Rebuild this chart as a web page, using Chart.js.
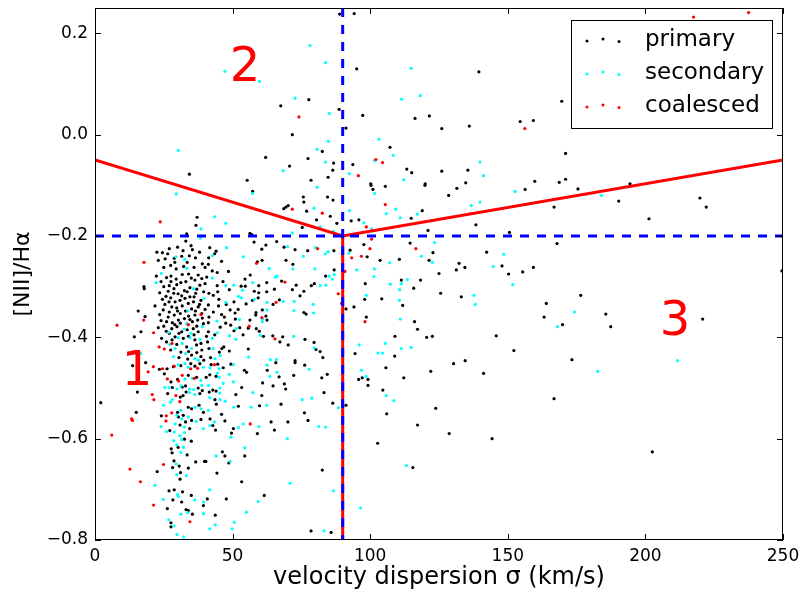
<!DOCTYPE html>
<html>
<head>
<meta charset="utf-8">
<script src="https://cdn.jsdelivr.net/npm/chart.js@4.4.1/dist/chart.umd.min.js"></script>
<style>
  body { margin: 0; background: #fff; }
  #wrap { width: 805px; height: 601px; }
</style>
</head>
<body>
<div id="wrap"><canvas id="bptChart" width="805" height="601"></canvas></div>
<script>
// ejes
const xTicks = [0, 50, 100, 150, 200, 250];
const yTicks = [-0.8, -0.6, -0.4, -0.2, 0.0, 0.2];
const seriesNames = ['primary', 'secondary', 'coalesced'];

// líneas divisorias (sigma, [NII]/Ha)
const boundaryX = [0, 90, 250];
const boundaryY = [-0.05, -0.2, -0.05];
const sigmaCut = 90;
const ratioCut = -0.2;

// etiquetas de región: [texto, sigma, ratio]
const regionLabels = [['1', 15.3, -0.47], ['2', 54.5, 0.13], ['3', 210.8, -0.37]];

// puntos [sigma, ratio]
const primaryPts = [
  [34.3,-0.078],[55.3,-0.090],[62.0,-0.045],[88.9,0.238],[94.2,0.239],[95.1,0.130],[77.7,0.069],[67.5,0.057],
  [88.7,0.050],[97.3,0.038],[116.3,0.032],[121.5,0.037],[91.2,0.013],[71.7,0.0],[107.2,-0.025],[82.6,-0.033],
  [77.4,-0.047],[86.7,-0.056],[93.7,-0.059],[70.7,-0.062],[86.4,-0.070],[113.3,-0.068],[115.1,-0.075],[84.7,-0.084],
  [78.5,-0.090],[100.2,-0.097],[120.0,-0.097],[139.5,0.124],[169.6,0.066],[126.0,0.012],[136.0,0.017],[154.5,0.026],
  [159.3,0.028],[171.0,-0.037],[126.0,-0.072],[135.5,-0.070],[134.7,-0.095],[159.8,-0.092],[168.7,-0.094],[171.0,-0.088],
  [194.4,-0.097],[175.5,-0.107],[190.3,-0.131],[219.8,-0.125],[222.1,-0.143],[201.3,-0.166],[249.6,-0.269],[176.5,-0.317],
  [169.9,-0.375],[185.6,-0.354],[187.4,-0.379],[220.8,-0.364],[173.3,-0.444],[202.5,-0.626],
  [97.1,-0.480],[95.8,-0.483],[99.2,-0.483],[99.2,-0.495],[105.7,-0.460],[122.0,-0.467],[130.3,-0.452],[141.2,-0.471],
  [112.2,-0.480],[104.6,-0.504],[91.2,-0.534],[106.0,-0.551],[123.8,-0.540],[166.8,-0.521],[117.2,-0.573],[128.7,-0.590],
  [144.3,-0.600],[102.7,-0.609],[115.5,-0.657],
  [100.3,-0.100],[101.0,-0.108],[105.5,-0.102],[119.9,-0.100],[131.5,-0.106],[128.5,-0.120],[156.3,-0.108],[114.9,-0.165],
  [118.9,-0.150],[166.8,-0.143],[93.1,-0.170],[95.9,-0.168],[121.0,-0.189],[138.4,-0.178],[150.6,-0.193],[97.7,-0.217],
  [92.7,-0.228],[98.9,-0.241],[114.5,-0.214],[122.8,-0.233],[103.6,-0.248],[110.6,-0.246],[121.4,-0.248],[142.3,-0.232],
  [167.9,-0.215],[98.2,-0.294],[111.3,-0.287],[118.3,-0.287],[115.8,-0.303],[125.0,-0.274],[132.3,-0.254],[131.3,-0.267],
  [134.4,-0.262],[147.9,-0.259],[150.3,-0.275],[155.4,-0.271],[159.3,-0.262],[125.6,-0.313],[133.1,-0.320],[98.0,-0.325],
  [104.2,-0.324],[111.8,-0.337],[94.1,-0.340],[91.2,-0.344],[98.6,-0.360],[116.1,-0.369],[117.2,-0.384],[109.0,-0.398],
  [120.5,-0.400],[122.6,-0.398],[164.0,-0.333],[163.2,-0.360],[145.8,-0.397],[152.2,-0.426],[94.5,-0.432],[108.9,-0.437],
  [134.5,-0.446],
  [57.3,-0.112],[75.7,-0.123],[75.9,-0.133],[68.6,-0.146],[69.4,-0.143],[70.2,-0.140],[76.9,-0.151],[85.5,-0.161],
  [80.5,-0.168],[84.5,-0.123],[86.5,-0.129],[87.9,-0.175],[75.3,-0.183],[56.3,-0.195],[56.9,-0.197],[37.1,-0.163],
  [36.7,-0.179],[33.3,-0.196],
  [41.7,-0.223],[43.5,-0.235],[57.8,-0.212],[62.1,-0.218],[60.6,-0.226],[66.0,-0.211],[72.7,-0.227],[77.3,-0.229],
  [86.8,-0.229],[59.0,-0.251],[71.9,-0.256],[41.2,-0.256],[42.6,-0.269],[44.4,-0.272],[54.5,-0.285],[56.4,-0.277],
  [62.4,-0.292],[73.1,-0.297],[78.6,-0.298],[79.7,-0.294],[75.9,-0.309],[74.5,-0.318],[65.2,-0.305],[53.1,-0.299],
  [48.8,-0.306],[59.5,-0.312],[59.3,-0.322],[64.7,-0.335],[54.9,-0.334],[44.9,-0.338],[75.9,-0.351],[60.8,-0.346],
  [58.4,-0.356],[56.3,-0.366],[51.0,-0.364],[47.5,-0.372],[50.5,-0.387],[53.8,-0.395],[55.7,-0.382],[59.7,-0.388],
  [64.6,-0.397],[70.2,-0.415],[76.3,-0.404],[81.8,-0.428],[82.8,-0.440],[79.6,-0.410],[55.7,-0.423],[46.1,-0.422],
  [72.7,-0.446],[41.3,-0.243],[40.6,-0.281],[40.0,-0.294],[41.4,-0.313],[43.0,-0.317],[44.6,-0.310],[41.2,-0.336],
  [43.0,-0.350],[41.4,-0.360],[46.0,-0.355],[49.1,-0.346],[47.7,-0.335],[50.9,-0.352],[41.2,-0.371],[49.3,-0.376],
  [52.6,-0.381],[58.6,-0.383],[41.2,-0.389],[40.9,-0.409],[41.4,-0.422],[48.8,-0.427],[46.8,-0.419],[45.2,-0.429],
  [67.2,-0.409],[68.2,-0.399],[61.2,-0.398],[62.5,-0.366],[62.1,-0.358],[58.5,-0.351],[57.2,-0.327],[59.5,-0.298],
  [54.6,-0.299],[57.9,-0.309],[62.4,-0.310],[67.8,-0.289],[71.7,-0.306],[76.7,-0.354],[80.3,-0.424],[67.0,-0.326],
  [69.4,-0.248],[60.7,-0.248],[68.7,-0.222],[86.9,-0.267],[83.8,-0.279],[44.4,-0.298],
  [46.6,-0.460],[49.4,-0.453],[41.7,-0.474],[54.3,-0.465],[55.1,-0.469],[62.6,-0.465],[76.2,-0.455],[66.9,-0.478],
  [72.2,-0.475],[82.4,-0.480],[84.4,-0.473],[60.9,-0.490],[64.7,-0.496],[68.8,-0.492],[69.3,-0.502],[53.3,-0.499],
  [44.0,-0.506],[43.6,-0.523],[51.2,-0.513],[60.6,-0.515],[59.8,-0.535],[67.6,-0.532],[52.1,-0.536],[46.0,-0.552],
  [41.8,-0.561],[47.2,-0.565],[43.8,-0.583],[64.0,-0.567],[65.2,-0.583],[70.1,-0.567],[59.0,-0.590],[49.6,-0.589],
  [76.1,-0.549],[77.4,-0.564],[83.2,-0.509],[86.4,-0.530],[46.3,-0.626],[47.2,-0.634],[54.4,-0.634],[40.3,-0.645],
  [44.3,-0.668],[82.6,-0.662],[53.3,-0.685],[61.5,-0.712],[40.8,-0.719],[47.7,-0.719],[43.7,-0.751],[78.5,-0.782],
  [85.8,-0.785],[40.4,-0.479],[42.8,-0.504],[41.5,-0.508],[44.1,-0.532],[42.8,-0.574],[50.3,-0.580],[48.6,-0.648],
  [42.2,-0.454],[44.6,-0.453],[44.0,-0.477],[65.7,-0.450],[72.7,-0.450],
  [2.1,-0.529],[15.0,-0.548],[22.6,-0.665],[15.4,-0.508],[13.7,-0.456],[18.4,-0.450],[24.1,-0.555],[28.1,-0.499],
  [26.4,-0.511],[26.2,-0.462],[27.2,-0.584],[28.5,-0.458],[31.2,-0.456],[32.0,-0.515],[30.2,-0.617],[27.7,-0.620],
  [32.5,-0.601],[33.5,-0.632],[35.0,-0.605],[28.7,-0.644],[30.6,-0.654],[33.9,-0.658],[28.2,-0.657],[30.9,-0.680],
  [36.6,-0.646],[39.8,-0.645],[26.9,-0.703],[28.8,-0.701],[31.8,-0.705],[35.0,-0.712],[28.3,-0.721],[31.5,-0.725],
  [26.3,-0.738],[33.1,-0.740],[35.4,-0.749],[27.6,-0.766],[27.6,-0.774],[28.0,-0.628],[31.1,-0.667],[33.9,-0.742],
  [39.4,-0.732],
  [23.4,-0.463],[25.2,-0.472],[34.8,-0.452],[36.3,-0.457],[38.1,-0.452],[30.0,-0.483],[33.9,-0.475],[36.9,-0.479],
  [27.6,-0.488],[31.7,-0.498],[32.9,-0.496],[37.5,-0.500],[39.0,-0.505],[31.0,-0.518],[33.1,-0.508],[38.1,-0.511],
  [33.9,-0.538],[35.1,-0.541],[37.8,-0.534],[39.4,-0.548],[30.0,-0.548],[32.1,-0.554],[30.3,-0.557],[32.9,-0.567],
  [35.1,-0.564],[38.5,-0.562],[30.9,-0.573],[34.4,-0.580],
  [30.0,-0.222],[32.0,-0.229],[34.9,-0.219],[35.4,-0.227],[24.5,-0.233],[26.4,-0.235],[28.8,-0.244],[34.3,-0.239],
  [23.0,-0.248],[22.3,-0.279],[27.6,-0.279],[26.0,-0.282],[27.6,-0.290],[32.2,-0.260],[31.7,-0.276],[29.7,-0.296],
  [31.2,-0.292],[28.7,-0.304],[26.6,-0.309],[25.8,-0.319],[28.6,-0.313],[30.2,-0.314],[32.5,-0.308],[34.5,-0.302],
  [36.3,-0.287],[37.5,-0.277],[38.8,-0.284],[38.1,-0.297],[36.6,-0.313],[34.5,-0.320],[32.7,-0.323],[30.9,-0.327],
  [29.1,-0.330],[26.9,-0.330],[25.4,-0.335],[27.9,-0.340],[29.7,-0.342],[31.7,-0.338],[33.9,-0.333],[35.8,-0.330],
  [38.5,-0.327],[37.5,-0.340],[35.1,-0.344],[32.9,-0.348],[31.0,-0.353],[28.8,-0.356],[26.6,-0.360],[36.3,-0.356],
  [38.8,-0.353],[24.8,-0.346],[24.0,-0.367],[26.0,-0.369],[28.1,-0.371],[30.3,-0.366],[32.5,-0.363],[35.4,-0.369],
  [37.3,-0.366],[39.4,-0.373],[23.0,-0.381],[25.9,-0.388],[27.9,-0.383],[29.8,-0.379],[31.5,-0.389],[35.7,-0.383],
  [37.5,-0.389],[29.1,-0.399],[32.1,-0.402],[36.3,-0.405],[24.2,-0.402],[26.0,-0.409],[29.7,-0.414],[33.3,-0.419],
  [36.9,-0.415],[38.8,-0.425],[31.2,-0.429],[35.1,-0.435],[38.5,-0.438],[33.7,-0.443],[15.7,-0.348],[18.2,-0.359],
  [16.7,-0.389],[14.3,-0.399],[21.8,-0.338],[17.8,-0.300],[17.9,-0.304],
  [33.0,-0.210],[27.5,-0.258],[29.5,-0.265],[25.0,-0.262],[36.0,-0.262],[39.0,-0.255],[34.0,-0.275],
  [22.5,-0.232],[25.5,-0.245],[27.0,-0.225],[29.0,-0.252],[31.5,-0.240],[33.5,-0.252],[36.5,-0.243],[38.0,-0.232],
  [40.0,-0.262],[24.0,-0.290],[23.5,-0.312],[25.0,-0.300],[27.0,-0.298],[29.5,-0.285],[33.0,-0.290],[35.0,-0.283],
  [37.0,-0.305],[39.5,-0.310],[24.5,-0.325],[27.5,-0.322],[31.5,-0.318],[33.5,-0.310],[36.0,-0.320],[38.0,-0.335],
  [40.0,-0.345],[23.5,-0.355],[27.0,-0.350],[30.0,-0.348],[34.0,-0.358],[36.5,-0.348],[39.0,-0.362],[25.0,-0.378],
  [27.0,-0.392],[29.0,-0.375],[31.0,-0.372],[33.5,-0.385],[34.5,-0.365],[37.0,-0.378],[40.5,-0.398],[28.0,-0.405],
  [30.5,-0.392],[34.0,-0.398],[36.0,-0.395],[38.5,-0.412],[27.5,-0.425],[30.5,-0.440],[34.0,-0.428],[37.0,-0.430],
  [39.5,-0.445],[42.0,-0.440],[43.5,-0.395],[45.5,-0.380],[47.0,-0.360],[45.0,-0.325],[46.5,-0.290],[48.5,-0.270],
  [46.0,-0.250],[50.5,-0.330],[52.0,-0.345],[44.0,-0.230]
];

const secondaryPts = [
  [47.2,0.125],[59.7,0.105],[30.3,-0.031],[78.1,0.176],[83.8,0.142],[114.9,0.131],[72.7,0.072],[111.4,0.070],
  [118.2,0.077],[85.1,0.042],[84.8,-0.013],[103.2,-0.009],[80.7,-0.029],[108.4,-0.041],[101.5,-0.051],[83.7,-0.054],
  [68.4,-0.071],[92.4,-0.077],[112.2,-0.089],[139.9,-0.054],[141.2,-0.081],[184.0,-0.120],[174.2,-0.350],[211.7,-0.446],
  [182.7,-0.467],[96.8,-0.465],[98.5,-0.477],[105.8,-0.515],[108.6,-0.525],[113.2,-0.653],[96.5,-0.737],
  [101.6,-0.116],[152.7,-0.112],[136.7,-0.140],[139.9,-0.133],[105.8,-0.156],[109.3,-0.147],[110.9,-0.164],[117.1,-0.157],
  [92.5,-0.150],[97.7,-0.174],[100.5,-0.186],[92.2,-0.234],[123.4,-0.213],[118.6,-0.240],[107.1,-0.253],[122.6,-0.252],
  [148.5,-0.236],[95.1,-0.267],[101.5,-0.265],[101.4,-0.280],[107.3,-0.295],[111.3,-0.294],[113.5,-0.286],[110.7,-0.306],
  [144.7,-0.260],[151.8,-0.296],[137.7,-0.317],[138.2,-0.335],[98.6,-0.317],[110.6,-0.327],[110.9,-0.364],[168.0,-0.379],
  [105.5,-0.412],[96.0,-0.415],[111.3,-0.422],[114.9,-0.420],[102.8,-0.431],[104.5,-0.431],
  [57.3,-0.116],[79.6,-0.145],[80.7,-0.104],[81.8,-0.182],[86.6,-0.191],[43.5,-0.162],[47.5,-0.175],[71.7,-0.194],
  [42.6,-0.239],[47.8,-0.223],[70.0,-0.221],[80.1,-0.223],[83.7,-0.235],[84.7,-0.231],[53.9,-0.241],[75.7,-0.240],
  [63.3,-0.264],[71.9,-0.265],[42.6,-0.283],[79.9,-0.265],[86.9,-0.276],[85.1,-0.279],[86.3,-0.285],[57.3,-0.292],
  [65.5,-0.281],[66.2,-0.279],[81.8,-0.298],[83.9,-0.297],[47.5,-0.298],[50.4,-0.297],[53.6,-0.307],[52.1,-0.319],
  [53.1,-0.322],[57.9,-0.325],[62.5,-0.331],[68.4,-0.329],[47.5,-0.331],[72.4,-0.329],[72.3,-0.347],[79.3,-0.335],
  [79.4,-0.352],[62.5,-0.346],[60.9,-0.364],[52.5,-0.365],[51.3,-0.383],[44.3,-0.368],[44.4,-0.391],[48.9,-0.397],
  [51.2,-0.404],[60.0,-0.396],[72.2,-0.398],[79.6,-0.421],[55.8,-0.439],[45.5,-0.436],[42.6,-0.402],[63.7,-0.444],
  [65.9,-0.444],[60.8,-0.369],[42.9,-0.422],[43.6,-0.442],
  [29.5,-0.117],[38.5,-0.186],[19.4,-0.202],[38.3,-0.204],[29.4,-0.241],[32.6,-0.246],[33.4,-0.264],[24.1,-0.274],
  [22.2,-0.292],[35.8,-0.304],[39.6,-0.323],[33.7,-0.348],[33.3,-0.373],[26.9,-0.390],[32.5,-0.384],[34.9,-0.392],
  [39.0,-0.379],[30.3,-0.401],[34.5,-0.401],[38.1,-0.404],[27.2,-0.414],[31.7,-0.412],[35.1,-0.422],[29.1,-0.422],
  [32.9,-0.432],[36.3,-0.442],[28.5,-0.438],[37.5,-0.445],[16.6,-0.432],
  [41.8,-0.460],[45.1,-0.462],[50.3,-0.454],[44.4,-0.471],[45.1,-0.479],[48.8,-0.473],[62.5,-0.455],[77.8,-0.463],
  [66.1,-0.469],[63.5,-0.477],[50.3,-0.488],[46.6,-0.491],[41.2,-0.495],[45.3,-0.510],[41.7,-0.519],[47.3,-0.526],
  [57.3,-0.509],[62.4,-0.534],[56.8,-0.538],[50.4,-0.538],[41.2,-0.544],[43.4,-0.567],[41.7,-0.574],[52.1,-0.578],
  [53.9,-0.571],[59.6,-0.576],[49.4,-0.597],[69.9,-0.600],[75.3,-0.523],[78.8,-0.520],[88.4,-0.539],[81.3,-0.576],
  [83.8,-0.577],[54.4,-0.618],[44.0,-0.634],[49.1,-0.645],[70.9,-0.688],[86.6,-0.703],[41.7,-0.701],[59.3,-0.724],
  [55.0,-0.745],[50.6,-0.765],[43.7,-0.770],[41.7,-0.778],[49.8,-0.778],[83.2,-0.782],[45.4,-0.500],[45.4,-0.523],
  [21.8,-0.692],[24.0,-0.576],[24.9,-0.534],[25.4,-0.499],[26.0,-0.586],[27.4,-0.528],[29.7,-0.554],[29.8,-0.502],
  [31.2,-0.496],[34.3,-0.509],[28.6,-0.604],[31.2,-0.627],[29.5,-0.650],[29.7,-0.671],[33.2,-0.673],[30.0,-0.710],
  [24.8,-0.720],[36.3,-0.721],[31.2,-0.749],[26.8,-0.760],[28.7,-0.772],[29.8,-0.789],[32.2,-0.794],[39.4,-0.748],
  [31.5,-0.602],[29.7,-0.612],[32.1,-0.617],[30.3,-0.714],[33.7,-0.746],[39.4,-0.725],
  [30.3,-0.454],[32.7,-0.452],[33.9,-0.459],[39.4,-0.459],[32.7,-0.482],[35.4,-0.481],[38.5,-0.485],[26.9,-0.499],
  [34.4,-0.502],[35.8,-0.503],[38.8,-0.495],[36.3,-0.513],[28.1,-0.523],[36.3,-0.538],[38.5,-0.541],[31.2,-0.544],
  [31.5,-0.561],[33.9,-0.557],[36.7,-0.566],[29.1,-0.571],[32.5,-0.577],[28.8,-0.587],[30.9,-0.594],[32.5,-0.588],
  [39.4,-0.580]
];

const coalescedPts = [
  [74.1,0.035],[102.1,-0.049],[104.5,-0.055],[95.7,-0.081],[156.2,0.012],[217.5,0.232],[237.5,0.241],
  [71.7,-0.147],[82.6,-0.155],[80.9,-0.225],[58.7,-0.254],[69.0,-0.291],[88.4,-0.314],[65.8,-0.331],[89.6,-0.333],
  [60.6,-0.361],[56.0,-0.378],[65.4,-0.403],[105.5,-0.138],[98.6,-0.182],[100.5,-0.206],[99.9,-0.225],[93.3,-0.243],
  [96.8,-0.240],[116.6,-0.225],[90.8,-0.270],[98.1,-0.369],[23.7,-0.172],[17.8,-0.252],[17.7,-0.366],[8.0,-0.376],
  [21.3,-0.391],[28.0,-0.412],[23.3,-0.419],[25.2,-0.423],[38.5,-0.355],[33.9,-0.375],[43.4,-0.454],[56.4,-0.571],
  [6.1,-0.593],[13.3,-0.561],[13.6,-0.564],[12.7,-0.660],[16.5,-0.685],[21.3,-0.731],[24.9,-0.651],[21.2,-0.458],
  [19.3,-0.468],[20.8,-0.513],[21.4,-0.523],[24.5,-0.462],[25.9,-0.555],[25.8,-0.565],[27.9,-0.549],[30.8,-0.527],
  [29.4,-0.515],[34.5,-0.764],[28.8,-0.457],[34.8,-0.462],[37.3,-0.461],[31.7,-0.475],[30.3,-0.486],[36.1,-0.481],
  [26.3,-0.482]
];

const seriesColors = ['#000000', '#00ffff', '#ff0000'];
const FONT = "'DejaVu Sans', sans-serif";

function toXY(pts) {
    return pts.map(p => ({ x: p[0], y: p[1] }));
}
function fmtTick(v) {
    const s = Math.abs(v).toFixed(1);
    return v < -1e-9 ? '\u2212' + s : s;
}

// marco, marcas interiores, etiquetas de región y leyenda
const overlayPlugin = {
    id: 'overlay',
    afterDatasetsDraw(chart) {
        const { ctx, chartArea: a, scales } = chart;
        const sx = scales.x, sy = scales.y;
        ctx.save();
        ctx.strokeStyle = '#000';
        ctx.lineWidth = 1;
        ctx.strokeRect(a.left + 0.5, a.top + 0.5, a.right - a.left - 1, a.bottom - a.top - 1);

        // ticks hacia dentro
        ctx.beginPath();
        xTicks.forEach(v => {
            const px = Math.round(sx.getPixelForValue(v)) + 0.5;
            ctx.moveTo(px, a.bottom); ctx.lineTo(px, a.bottom - 6);
            ctx.moveTo(px, a.top); ctx.lineTo(px, a.top + 6);
        });
        yTicks.forEach(v => {
            const py = Math.round(sy.getPixelForValue(v)) + 0.5;
            ctx.moveTo(a.left, py); ctx.lineTo(a.left + 6, py);
            ctx.moveTo(a.right, py); ctx.lineTo(a.right - 6, py);
        });
        ctx.stroke();

        // números de región
        ctx.fillStyle = '#ff0000';
        ctx.font = '48px ' + FONT;
        ctx.textAlign = 'center';
        ctx.textBaseline = 'middle';
        regionLabels.forEach(r => {
            ctx.fillText(r[0], sx.getPixelForValue(r[1]), sy.getPixelForValue(r[2]));
        });

        // leyenda
        const bx = a.right - 212, by = a.top + 12, bw = 201, bh = 108;
        ctx.fillStyle = '#fff';
        ctx.fillRect(bx, by, bw, bh);
        ctx.strokeStyle = '#000';
        ctx.strokeRect(bx + 0.5, by + 0.5, bw, bh);
        const dotOffsets = [1, -1, 1.5];
        ctx.font = '23px ' + FONT;
        ctx.textAlign = 'left';
        seriesNames.forEach((name, i) => {
            const cy = by + 20 + i * 33;
            ctx.fillStyle = seriesColors[i];
            [16, 32, 48].forEach((dx, k) => {
                ctx.beginPath();
                ctx.arc(bx + dx, cy + dotOffsets[k], 1.5, 0, Math.PI * 2);
                ctx.fill();
            });
            ctx.fillStyle = '#000';
            ctx.fillText(name, bx + 74, cy);
        });
        ctx.restore();
    }
};

document.addEventListener('DOMContentLoaded', function() {
    const ctx = document.getElementById('bptChart').getContext('2d');
    const pointStyle = (pts, i, order) => ({
        type: 'scatter',
        label: seriesNames[i],
        data: toXY(pts),
        backgroundColor: seriesColors[i],
        borderWidth: 0,
        pointRadius: 1.6,
        order: order
    });

    new Chart(ctx, {
        type: 'scatter',
        data: {
            datasets: [
                {
                    type: 'line',
                    label: 'sigma cut',
                    data: [{ x: sigmaCut, y: 0.25 }, { x: sigmaCut, y: -0.8 }],
                    borderColor: '#0000ff', borderWidth: 3, borderDash: [9, 8],
                    pointRadius: 0, fill: false, order: 0
                },
                {
                    type: 'line',
                    label: 'ratio cut',
                    data: [{ x: 0, y: ratioCut }, { x: 250, y: ratioCut }],
                    borderColor: '#0000ff', borderWidth: 3, borderDash: [9, 8],
                    pointRadius: 0, fill: false, order: 0
                },
                {
                    type: 'line',
                    label: 'boundary',
                    data: boundaryX.map((x, i) => ({ x: x, y: boundaryY[i] })),
                    borderColor: '#ff0000', borderWidth: 3,
                    pointRadius: 0, fill: false, tension: 0, order: 1
                },
                {
                    type: 'line',
                    label: 'boundary vertical',
                    data: [{ x: sigmaCut, y: ratioCut }, { x: sigmaCut, y: -0.8 }],
                    borderColor: '#ff0000', borderWidth: 3,
                    pointRadius: 0, fill: false, order: 1
                },
                pointStyle(coalescedPts, 2, 2),
                pointStyle(secondaryPts, 1, 3),
                pointStyle(primaryPts, 0, 4)
            ]
        },
        options: {
            responsive: false,
            animation: false,
            layout: { padding: { top: 8, right: 22, left: 0, bottom: 0 } },
            plugins: {
                legend: { display: false },
                tooltip: { enabled: false }
            },
            scales: {
                x: {
                    type: 'linear',
                    min: 0, max: 250,
                    afterFit: s => { s.height = 61; s.paddingLeft = 0; s.paddingRight = 0; },
                    afterBuildTicks: s => { s.ticks = xTicks.map(v => ({ value: v })); },
                    grid: { display: false, drawTicks: false },
                    border: { display: false },
                    ticks: { color: '#000', padding: 6, font: { family: FONT, size: 17 }, maxRotation: 0 },
                    title: {
                        display: true,
                        text: 'velocity dispersion \u03c3 (km/s)',
                        color: '#000',
                        font: { family: FONT, size: 24 },
                        padding: { top: 0, bottom: 9 }
                    }
                },
                y: {
                    type: 'linear',
                    min: -0.8, max: 0.25,
                    afterFit: s => { s.width = 95; s.paddingTop = 0; s.paddingBottom = 0; },
                    afterBuildTicks: s => { s.ticks = yTicks.map(v => ({ value: v })); },
                    grid: { display: false, drawTicks: false },
                    border: { display: false },
                    ticks: { color: '#000', padding: 7, font: { family: FONT, size: 17 }, callback: v => fmtTick(v) },
                    title: {
                        display: true,
                        text: '[NII]/H\u03b1',
                        color: '#000',
                        font: { family: FONT, size: 22 },
                        padding: { top: 10, bottom: 0 }
                    }
                }
            }
        },
        plugins: [overlayPlugin]
    });
});
</script>
</body>
</html>
